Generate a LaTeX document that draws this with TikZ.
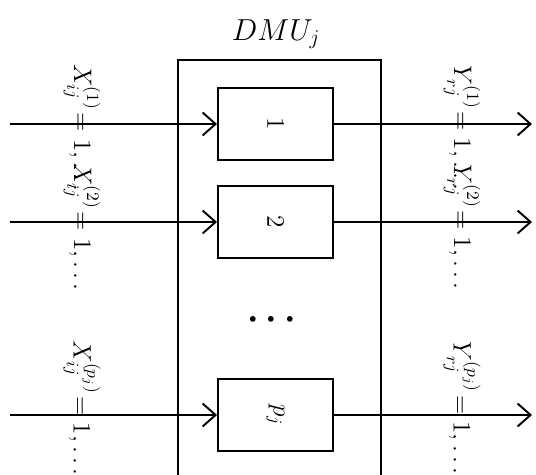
\documentclass[tikz,border=0pt]{standalone}
\usepackage{amsmath}
\usetikzlibrary{arrows.meta}

\begin{document}
\begin{tikzpicture}[
        x=0.02cm, y=-0.02cm,
        stage/.style={rectangle, draw, line width=1.1pt, minimum width=2.3cm, minimum height=1.44cm, inner sep=0pt},
        vlabel/.style={rotate=-90, font=\Large, inner sep=0pt},
        arrow/.style={-{Straight Barb[length=2.6mm, width=4.6mm, line width=1.1pt]}, line width=1.1pt}
    ]
        \useasboundingbox (0,0) rectangle (536,475);

        % outer DMU box
        \draw[line width=1.1pt] (178,490) |- (381,60) -- (381,490);
        \node[font=\LARGE] (title) at (276,34) {$DMU_j$};

        % stages
        \node[stage] (S1) at (275.5,124) {\rotatebox{-90}{\Large $1$}};
        \node[stage] (S2) at (275.5,222) {\rotatebox{-90}{\Large $2$}};
        \node[stage] (Sp) at (275.5,415) {\rotatebox{-90}{\Large $p_j$}};
        \node[font=\huge] (dots) at (275,320) {$\boldsymbol{\cdots}$};

        % inputs and outputs
        \coordinate (in1) at (10,124);
        \coordinate (in2) at (10,222);
        \coordinate (inp) at (10,415);
        \coordinate (out1) at (532,124);
        \coordinate (out2) at (532,222);
        \coordinate (outp) at (532,415);

        \draw[arrow] (in1) -- (S1);
        \draw[arrow] (in2) -- (S2);
        \draw[arrow] (inp) -- (Sp);
        \draw[arrow] (S1) -- (out1);
        \draw[arrow] (S2) -- (out2);
        \draw[arrow] (Sp) -- (outp);

        % rotated labels
        \node[vlabel] (x1) at (82,128) {$X_{ij}^{(1)}\!= 1,\ldots$};
        \node[vlabel] (x2) at (82,227) {$X_{ij}^{(2)}\!= 1,\ldots$};
        \node[vlabel] (xp) at (82,408) {$X_{ij}^{(p_j)}\!= 1,\ldots$};
        \node[vlabel] (y1) at (462,128) {$Y_{rj}^{(1)}\!= 1,\ldots$};
        \node[vlabel] (y2) at (462,227) {$Y_{rj}^{(2)}\!= 1,\ldots$};
        \node[vlabel] (yp) at (462,408) {$Y_{rj}^{(p_j)}\!= 1,\ldots$};
    \end{tikzpicture}
\end{document}
